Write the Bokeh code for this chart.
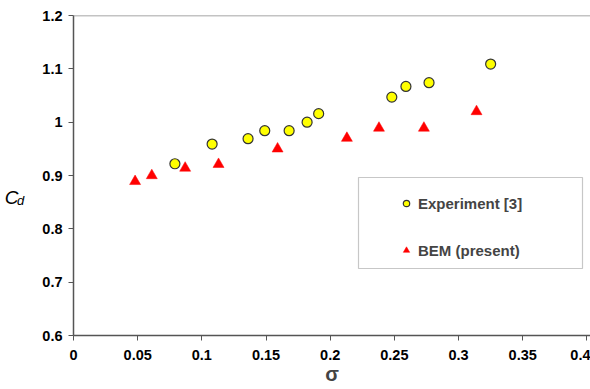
from bokeh.plotting import figure
from bokeh.models import (Legend, LegendItem, Span, BoxAnnotation, FixedTicker, Range1d,
                          LinearAxis)
from bokeh.embed import file_html
from bokeh.resources import INLINE

exp_sigma = [0.079, 0.108, 0.136, 0.149, 0.168, 0.182, 0.191, 0.248, 0.259, 0.277, 0.325]
exp_cd = [0.922, 0.959, 0.969, 0.984, 0.984, 1.000, 1.016, 1.047, 1.067, 1.074, 1.109]
bem_sigma = [0.048, 0.061, 0.087, 0.113, 0.159, 0.213, 0.238, 0.273, 0.314]
bem_cd = [0.889, 0.900, 0.914, 0.921, 0.950, 0.970, 0.989, 0.989, 1.020]
x_ticks = [0, 0.05, 0.1, 0.15, 0.2, 0.25, 0.3, 0.35, 0.4]
y_ticks = [0.6, 0.7, 0.8, 0.9, 1.0, 1.1, 1.2]

FONT = "Liberation Sans"

p = figure(width=590, height=389, output_backend="svg", toolbar_location=None,
           x_range=Range1d(0, 0.4028), y_range=Range1d(0.6, 1.2),
           min_border_left=73, min_border_right=0, min_border_top=15, min_border_bottom=54)
p.grid.visible = False
p.outline_line_color = None
p.background_fill_color = "white"
p.border_fill_color = "white"

for ax in (p.xaxis[0], p.yaxis[0]):
    ax.axis_line_color = "#555555"
    ax.axis_line_width = 1.5
    ax.major_tick_line_color = "#555555"
    ax.major_tick_in = 0
    ax.major_tick_out = 5
    ax.minor_tick_line_color = None
    ax.major_label_text_font = FONT
    ax.major_label_text_font_style = "bold"
    ax.major_label_text_font_size = "14.5px"
    ax.major_label_text_color = "black"

p.xaxis.ticker = FixedTicker(ticks=x_ticks)
p.yaxis.ticker = FixedTicker(ticks=y_ticks)
p.xaxis.major_label_overrides = {t: ("0" if t == 0 else f"{t:g}") for t in x_ticks}
p.yaxis.major_label_overrides = {t: f"{t:g}" for t in y_ticks}
p.xaxis.major_label_standoff = 9
p.yaxis.major_label_standoff = 6

p.xaxis.axis_label = "σ"
p.xaxis.axis_label_text_font = FONT
p.xaxis.axis_label_text_font_style = "bold"
p.xaxis.axis_label_text_font_size = "20px"
p.xaxis.axis_label_text_line_height = 1.0
p.xaxis.axis_label_standoff = 0

# subscript "d" as the inner y-axis label
p.yaxis.axis_label = "\n\n\nd"
p.yaxis.axis_label_orientation = "horizontal"
p.yaxis.axis_label_text_font = FONT
p.yaxis.axis_label_text_font_style = "italic"
p.yaxis.axis_label_text_font_size = "13px"
p.yaxis.axis_label_text_line_height = 1.1
p.yaxis.axis_label_standoff = 15
p.yaxis.axis_label_text_color = "black"

# "C" as an outer, tick-less y-axis label
outer = LinearAxis(ticker=FixedTicker(ticks=[]), axis_line_color=None,
                   major_tick_line_color=None, minor_tick_line_color=None,
                   axis_label="\n\nC", axis_label_orientation="horizontal",
                   axis_label_text_font=FONT, axis_label_text_font_style="italic",
                   axis_label_text_font_size="19px", axis_label_text_color="black",
                   axis_label_text_line_height=1.05,
                   axis_label_standoff=-4)
p.add_layout(outer, "left")

p.add_layout(Span(location=1.2, dimension="width", line_color="#888888", line_width=1.5))

r1 = p.scatter(exp_sigma, exp_cd, marker="circle", size=10, fill_color="#FFFF00",
               line_color="#333333", line_width=1.2)
r2 = p.scatter(bem_sigma, bem_cd, marker="triangle", size=11, fill_color="#FF0000",
               line_color="#FF0000", line_width=0.5)

# legend frame (screen units relative to plot frame bottom-left)
p.add_layout(BoxAnnotation(left=285, right=509, top=158, bottom=67,
                           left_units="screen", right_units="screen",
                           top_units="screen", bottom_units="screen",
                           fill_color="white", fill_alpha=1, line_color="#444444",
                           line_width=1.2, level="annotation"))

legend = Legend(items=[LegendItem(label="Experiment [3]", renderers=[r1]),
                       LegendItem(label="BEM (present)", renderers=[r2])],
                location=(325, 75), padding=0, spacing=27, glyph_width=16,
                glyph_height=20, label_height=20, label_standoff=4,
                label_text_font=FONT, label_text_font_style="bold",
                label_text_font_size="15px", border_line_color=None,
                background_fill_alpha=0)
p.add_layout(legend, "center")

open("out.html", "w").write(file_html(p, INLINE))
